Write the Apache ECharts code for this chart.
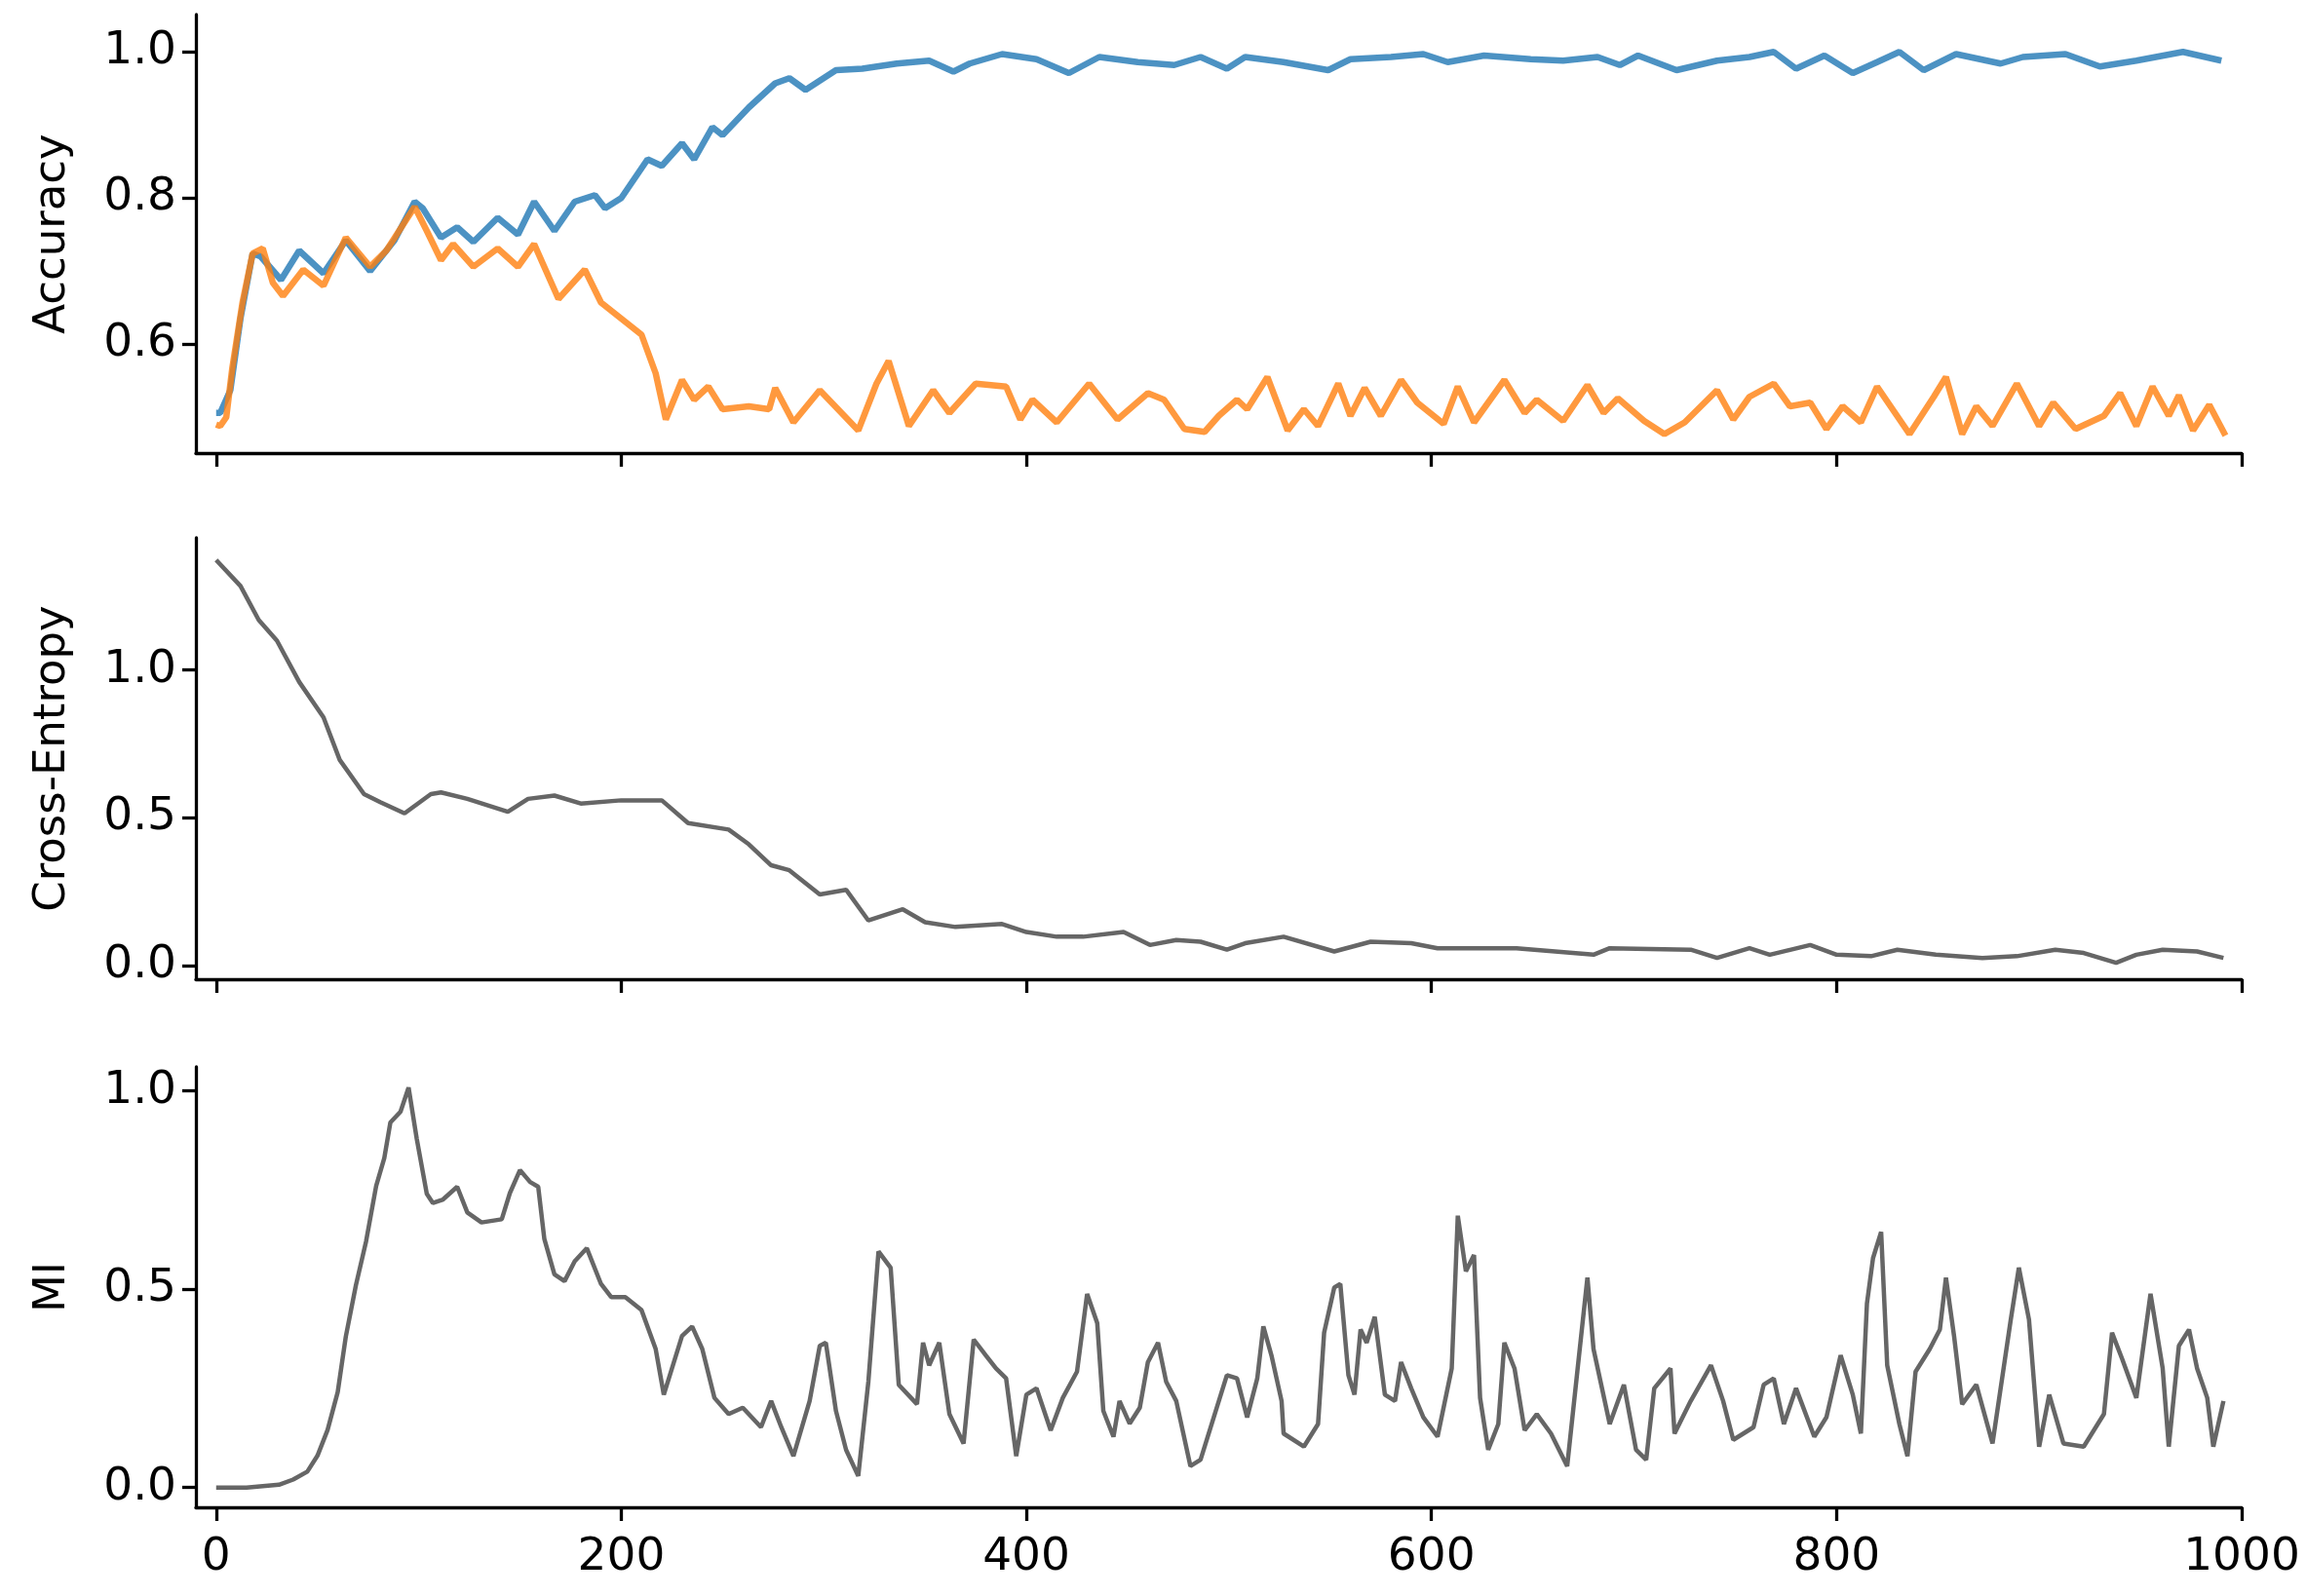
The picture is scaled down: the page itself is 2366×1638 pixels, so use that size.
<!DOCTYPE html>
<html>
<head>
<meta charset="utf-8">
<script src="https://cdn.jsdelivr.net/npm/echarts@6/dist/echarts.min.js"></script>
<style>
  body { margin: 0; background: #fff; }
  #chart { width: 2366px; height: 1638px; }
</style>
</head>
<body>
<div id="chart"></div>
<script>
// values, [step, value]
var trainAcc = [[0,0.506],[2,0.506],[7,0.537],[12,0.635],[18,0.724],[22,0.72],[32,0.688],[41,0.728],[53,0.697],[64,0.742],
  [76,0.70],[88,0.742],[98,0.795],[102,0.786],[111,0.746],[119,0.76],[127,0.74],[139,0.773],[149,0.75],[157,0.795],
  [167,0.755],[177,0.795],[187,0.804],[192,0.786],[200,0.80],[213,0.853],[220,0.844],[230,0.875],[236,0.853],[245,0.897],
  [250,0.886],[263,0.924],[276,0.957],[283,0.964],[291,0.948],[306,0.975],[319,0.977],[336,0.984],[352,0.988],[364,0.973],
  [372,0.984],[388,0.997],[405,0.99],[421,0.971],[436,0.993],[455,0.986],[473,0.982],[486,0.993],[499,0.977],
  [508,0.993],[527,0.986],[549,0.975],[560,0.99],[580,0.993],[596,0.997],[608,0.986],[626,0.995],[649,0.99],[665,0.988],
  [682,0.993],[693,0.982],[702,0.995],[721,0.975],[741,0.988],[757,0.993],[769,1.0],[780,0.977],[794,0.995],[808,0.971],
  [820,0.986],[831,1.0],[843,0.975],[859,0.997],[881,0.984],[892,0.993],[913,0.997],[930,0.98],[948,0.988],[971,1.0],[990,0.988]];

var testAcc = [[0,0.49],[2,0.488],[5,0.50],[8,0.568],[13,0.657],[18,0.724],[23,0.731],[28,0.684],[33,0.666],[43,0.702],
  [53,0.68],[64,0.746],[76,0.706],[84,0.728],[98,0.788],[104,0.755],[111,0.715],[117,0.737],[127,0.706],[139,0.731],
  [149,0.706],[157,0.737],[169,0.662],[182,0.702],[190,0.657],[200,0.635],[210,0.613],[217,0.56],[222,0.497],[230,0.551],
  [236,0.524],[243,0.542],[250,0.511],[263,0.515],[273,0.511],[276,0.54],[285,0.493],[298,0.537],[307,0.511],[317,0.482],
  [326,0.546],[332,0.577],[342,0.488],[354,0.537],[362,0.506],[375,0.546],[390,0.542],[397,0.497],[403,0.524],[415,0.493],
  [431,0.546],[445,0.497],[460,0.533],[468,0.524],[478,0.484],[488,0.48],[495,0.502],[504,0.524],[509,0.511],[519,0.555],
  [529,0.482],[537,0.511],[544,0.488],[554,0.546],[560,0.502],[567,0.54],[575,0.502],[585,0.551],[593,0.52],[606,0.491],
  [613,0.542],[621,0.493],[636,0.551],[646,0.506],[652,0.524],[665,0.495],[677,0.544],[685,0.506],[692,0.526],[705,0.495],
  [715,0.477],[725,0.493],[741,0.537],[749,0.497],[757,0.528],[769,0.546],[777,0.515],[787,0.52],[795,0.484],[803,0.515],
  [812,0.493],[820,0.542],[836,0.477],[848,0.528],[854,0.555],[862,0.477],[869,0.515],[877,0.488],[889,0.546],[900,0.488],
  [907,0.52],[918,0.484],[932,0.502],[940,0.533],[948,0.488],[956,0.542],[964,0.502],[969,0.53],[976,0.482],[984,0.517],[992,0.475]];

var crossEnt = [[0,1.373],[12,1.285],[21,1.17],[30,1.10],[41,0.96],[53,0.84],[61,0.696],[73,0.58],[81,0.553],[93,0.515],
  [106,0.58],[111,0.586],[124,0.564],[144,0.52],[154,0.564],[167,0.575],[180,0.548],[200,0.559],[220,0.559],[233,0.482],
  [253,0.46],[263,0.41],[274,0.339],[283,0.322],[298,0.24],[311,0.256],[322,0.152],[339,0.19],[350,0.146],[365,0.13],
  [388,0.14],[400,0.113],[415,0.097],[428,0.097],[448,0.113],[461,0.069],[474,0.086],[486,0.08],[499,0.053],[508,0.075],
  [527,0.097],[552,0.047],[570,0.08],[590,0.075],[603,0.058],[642,0.058],[680,0.036],[688,0.058],[728,0.053],[741,0.025],
  [757,0.058],[767,0.036],[787,0.069],[800,0.036],[817,0.031],[830,0.053],[849,0.036],[872,0.025],[889,0.031],[908,0.053],
  [922,0.042],[938,0.009],[948,0.036],[961,0.053],[978,0.047],[991,0.025]];

var mutualInfo = [[0,0.0],[15,0.0],[31,0.007],[38,0.02],[45,0.04],[50,0.08],[55,0.145],[60,0.24],[64,0.38],[69,0.51],
  [74,0.62],[79,0.76],[83,0.83],[86,0.92],[91,0.947],[95,1.008],[99,0.88],[104,0.74],[107,0.717],[112,0.726],
  [119,0.758],[124,0.693],[131,0.668],[141,0.676],[145,0.742],[150,0.80],[155,0.77],[159,0.758],[162,0.627],[167,0.537],
  [172,0.52],[177,0.57],[183,0.603],[190,0.513],[195,0.48],[202,0.48],[210,0.447],[217,0.349],[221,0.234],[230,0.382],
  [235,0.406],[240,0.349],[246,0.226],[253,0.185],[260,0.201],[269,0.152],[274,0.218],[279,0.152],[285,0.079],[293,0.218],
  [298,0.357],[301,0.365],[306,0.193],[311,0.095],[317,0.029],[322,0.267],[327,0.595],[333,0.554],[337,0.259],[346,0.21],
  [349,0.365],[352,0.308],[357,0.365],[362,0.185],[369,0.111],[374,0.373],[380,0.333],[385,0.30],[390,0.275],[395,0.079],
  [400,0.234],[405,0.25],[412,0.144],[418,0.226],[425,0.292],[430,0.488],[435,0.414],[438,0.193],[443,0.128],[446,0.218],
  [451,0.161],[456,0.201],[460,0.316],[465,0.365],[469,0.267],[474,0.218],[481,0.054],[486,0.07],[493,0.185],[499,0.283],
  [504,0.275],[509,0.177],[514,0.275],[517,0.406],[521,0.333],[526,0.218],[527,0.136],[537,0.103],[544,0.16],[547,0.39],
  [552,0.504],[555,0.513],[559,0.283],[562,0.234],[565,0.398],[568,0.365],[572,0.43],[577,0.234],[582,0.218],[585,0.316],
  [590,0.25],[596,0.177],[603,0.128],[610,0.30],[613,0.685],[617,0.545],[621,0.586],[624,0.226],[628,0.095],[633,0.16],
  [636,0.365],[641,0.30],[646,0.144],[652,0.185],[659,0.136],[667,0.054],[672,0.292],[677,0.529],[680,0.349],[688,0.16],
  [695,0.259],[701,0.095],[706,0.07],[710,0.25],[718,0.30],[720,0.136],[728,0.218],[738,0.308],[744,0.218],[749,0.12],
  [759,0.152],[764,0.259],[769,0.275],[774,0.16],[780,0.25],[789,0.128],[795,0.177],[802,0.333],[808,0.234],[812,0.136],
  [815,0.464],[818,0.578],[822,0.644],[825,0.308],[831,0.16],[835,0.079],[839,0.292],[846,0.349],[851,0.398],[854,0.529],
  [858,0.382],[862,0.21],[869,0.259],[877,0.111],[886,0.423],[890,0.554],[895,0.423],[900,0.103],[905,0.234],[912,0.111],
  [922,0.103],[932,0.185],[936,0.39],[941,0.324],[948,0.226],[955,0.488],[961,0.30],[964,0.103],[969,0.357],[974,0.398],
  [978,0.30],[983,0.226],[986,0.103],[991,0.218]];

var xTicks = [0, 200, 400, 600, 800, 1000];
var accTicks = [0.6, 0.8, 1.0];
var ceTicks = [0.0, 0.5, 1.0];
var miTicks = [0.0, 0.5, 1.0];

var font = 'DejaVu Sans';
var tickFs = 47;
var nameFs = 45;

function xAx(idx, labels) {
  return {
    type: 'value', gridIndex: idx, min: -10, max: 1000,
    splitLine: { show: false },
    axisLine: { show: true, onZero: false, lineStyle: { color: '#000', width: 3.3 } },
    axisTick: { show: true, length: 14, customValues: xTicks, lineStyle: { color: '#000', width: 3.3 } },
    axisLabel: {
      show: labels, customValues: xTicks, margin: 28, fontSize: tickFs, fontFamily: font, color: '#000',
      formatter: function (v) { return String(v); }
    }
  };
}
function yAx(idx, name, mn, mx, ticks) {
  return {
    type: 'value', gridIndex: idx, min: mn, max: mx,
    name: name, nameLocation: 'middle', nameGap: 124,
    nameTextStyle: { fontSize: nameFs, fontFamily: font, color: '#000' },
    splitLine: { show: false },
    axisLine: { show: true, onZero: false, lineStyle: { color: '#000', width: 3.3 } },
    axisTick: { show: true, length: 14, customValues: ticks, lineStyle: { color: '#000', width: 3.3 } },
    axisLabel: {
      customValues: ticks, margin: 20, fontSize: tickFs, fontFamily: font, color: '#000',
      formatter: function (v) { return v.toFixed(1); }
    }
  };
}

var chart = echarts.init(document.getElementById('chart'));
chart.setOption({
  animation: false,
  backgroundColor: '#fff',
  grid: [
    { left: 201, width: 2099, top: 15, height: 450 },
    { left: 201, width: 2099, top: 552, height: 453 },
    { left: 201, width: 2099, top: 1095, height: 452 }
  ],
  xAxis: [xAx(0, false), xAx(1, false), xAx(2, true)],
  yAxis: [
    yAx(0, 'Accuracy', 0.451, 1.051, accTicks),
    yAx(1, 'Cross-Entropy', -0.047, 1.448, ceTicks),
    yAx(2, 'MI', -0.05, 1.06, miTicks)
  ],
  series: [
    { type: 'line', xAxisIndex: 0, yAxisIndex: 0, data: trainAcc, showSymbol: false,
      lineStyle: { color: '#1f77b4', width: 6.5, opacity: 0.8 } },
    { type: 'line', xAxisIndex: 0, yAxisIndex: 0, data: testAcc, showSymbol: false,
      lineStyle: { color: '#ff7f0e', width: 6.5, opacity: 0.8 } },
    { type: 'line', xAxisIndex: 1, yAxisIndex: 1, data: crossEnt, showSymbol: false,
      lineStyle: { color: '#666666', width: 4.5 } },
    { type: 'line', xAxisIndex: 2, yAxisIndex: 2, data: mutualInfo, showSymbol: false,
      lineStyle: { color: '#666666', width: 4.5 } }
  ]
});
</script>
</body>
</html>
